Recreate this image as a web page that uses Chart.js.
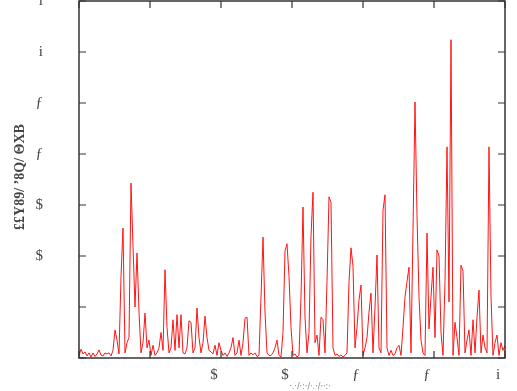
<!DOCTYPE html>
<html>
<head>
<meta charset="utf-8">
<script src="https://cdn.jsdelivr.net/npm/chart.js@4"></script>
<style>
  html, body { margin: 0; padding: 0; background: #fff; }
  #wrap { position: relative; width: 517px; height: 391px; }
</style>
</head>
<body>
<div id="wrap"><canvas id="spectrumChart"></canvas></div>
<script>
// tick labels (as they appear in the picture)
var xTickLabels = ['', '', '$', '$', 'ƒ', 'ƒ', 'i'];
var yTickLabels = ['', '', '$', '$', 'ƒ', 'ƒ', 'i', 'i'];
var yTitle = '££Y89/ ʼ8Q/ ΘXB';
var xTitle = '·.·/·:·/·.·/··:·';

// signal values, one sample per step along the x axis
var signal = [
    0.05, 0.17, 0.08, 0.12, 0.04, 0.10, 0.02, 0.10, 0.03, 0.08,
    0.16, 0.06, 0.04, 0.10, 0.08, 0.10, 0.04, 0.15, 0.55, 0.35,
    0.08, 1.60, 2.55, 0.10, 0.30, 0.40, 3.43, 2.20, 1.00, 2.06,
    0.90, 0.10, 0.30, 0.88, 0.20, 0.35, 0.05, 0.25, 0.05, 0.10,
    0.20, 0.50, 0.15, 1.73, 0.60, 0.10, 0.20, 0.75, 0.15, 0.85,
    0.20, 0.85, 0.10, 0.08, 0.20, 0.73, 0.70, 0.10, 0.20, 0.98,
    0.40, 0.10, 0.30, 0.82, 0.40, 0.15, 0.12, 0.08, 0.25, 0.05,
    0.30, 0.15, 0.05, 0.10, 0.03, 0.10, 0.20, 0.40, 0.05, 0.10,
    0.35, 0.05, 0.30, 0.78, 0.80, 0.05, 0.10, 0.06, 0.10, 0.03,
    0.05, 1.20, 2.37, 0.90, 0.10, 0.05, 0.05, 0.10, 0.20, 0.35,
    0.05, 0.02, 0.50, 2.10, 2.24, 1.60, 0.60, 0.05, 0.08, 0.02,
    0.05, 1.20, 2.96, 0.80, 0.10, 0.50, 2.40, 3.25, 0.30, 0.45,
    0.05, 0.80, 0.75, 0.10, 1.50, 3.16, 3.05, 0.20, 0.05, 0.08,
    0.03, 0.06, 0.02, 0.05, 0.10, 1.50, 2.16, 1.80, 0.20, 0.60,
    1.14, 1.43, 0.05, 0.20, 0.40, 0.90, 1.27, 0.10, 1.00, 2.02,
    0.20, 0.10, 2.90, 3.20, 0.20, 0.05, 0.15, 0.05, 0.08, 0.20,
    0.25, 0.05, 0.60, 1.20, 1.50, 1.78, 0.10, 2.50, 5.02, 2.80,
    1.20, 0.35, 0.10, 0.05, 2.45, 0.57, 1.20, 1.78, 0.40, 2.12,
    2.00, 0.50, 0.05, 1.50, 4.14, 1.10, 6.24, 0.05, 0.70, 0.40,
    0.05, 1.82, 1.70, 0.10, 0.35, 0.55, 0.05, 0.75, 0.10, 0.80,
    1.33, 0.10, 0.45, 0.20, 0.10, 4.14, 1.20, 0.05, 0.30, 0.45,
    0.05, 0.30, 0.15, 0.25
];

var xMax = signal.length - 1;
var xStep = xMax / 6;

// frame with inward ticks on all four sides, plus the axis titles
var framePlugin = {
    id: 'frame',
    afterDraw: function (chart) {
        var ctx = chart.ctx;
        var a = chart.chartArea;
        var xs = chart.scales.x;
        var ys = chart.scales.y;
        var tl = 7;
        ctx.save();
        ctx.strokeStyle = '#333';
        ctx.lineWidth = 1.5;
        ctx.strokeRect(a.left, a.top, a.right - a.left, a.bottom - a.top);
        ctx.lineWidth = 1.2;
        ctx.beginPath();
        xs.ticks.forEach(function (t) {
            var px = xs.getPixelForValue(t.value);
            ctx.moveTo(px, a.top); ctx.lineTo(px, a.top + tl);
            ctx.moveTo(px, a.bottom); ctx.lineTo(px, a.bottom - tl);
        });
        ys.ticks.forEach(function (t) {
            var py = ys.getPixelForValue(t.value);
            ctx.moveTo(a.left, py); ctx.lineTo(a.left + tl, py);
            ctx.moveTo(a.right, py); ctx.lineTo(a.right - tl, py);
        });
        ctx.stroke();

        ctx.fillStyle = '#444';
        ctx.textAlign = 'center';
        ctx.textBaseline = 'middle';
        ctx.translate(20, 177);
        ctx.rotate(-Math.PI / 2);
        ctx.font = 'bold 14px "Liberation Serif", serif';
        ctx.fillText(yTitle, 0, 0);
        ctx.restore();

        ctx.save();
        ctx.fillStyle = '#888';
        ctx.font = '8px "DejaVu Sans", sans-serif';
        ctx.textAlign = 'center';
        ctx.textBaseline = 'middle';
        ctx.fillText(xTitle, 310, 387);
        ctx.restore();
    }
};

var ctx1 = document.getElementById('spectrumChart').getContext('2d');
var spectrumChart = new Chart(ctx1, {
    type: 'line',
    data: {
        datasets: [{
            data: signal.map(function (v, i) { return { x: i, y: v }; }),
            borderColor: 'rgba(255, 20, 20, 1)',
            borderWidth: 1,
            pointRadius: 0,
            tension: 0,
            fill: false
        }]
    },
    options: {
        responsive: true,
        maintainAspectRatio: false,
        animation: false,
        layout: { padding: { top: 1, right: 12, left: 0, bottom: 0 } },
        plugins: {
            legend: { display: false },
            tooltip: { enabled: false }
        },
        scales: {
            x: {
                type: 'linear',
                min: 0,
                max: xMax,
                grid: { display: false, drawTicks: false },
                border: { display: false },
                afterBuildTicks: function (scale) {
                    scale.ticks = [0, 1, 2, 3, 4, 5, 6].map(function (k) { return { value: k * xStep }; });
                },
                afterFit: function (scale) {
                    scale.height = 33;
                    scale.paddingLeft = 0;
                    scale.paddingRight = 0;
                },
                ticks: {
                    autoSkip: false,
                    maxRotation: 0,
                    padding: 8,
                    labelOffset: -7,
                    color: '#444',
                    font: { family: '"Liberation Serif", serif', size: 15 },
                    callback: function (value, index) { return xTickLabels[index]; }
                }
            },
            y: {
                min: 0,
                max: 7,
                grid: { display: false, drawTicks: false },
                border: { display: false },
                afterFit: function (scale) {
                    scale.width = 79;
                    scale.paddingTop = 0;
                    scale.paddingBottom = 0;
                },
                ticks: {
                    stepSize: 1,
                    padding: 36,
                    color: '#444',
                    font: { family: '"Liberation Serif", serif', size: 15 },
                    callback: function (value, index) { return yTickLabels[index]; }
                }
            }
        }
    },
    plugins: [framePlugin]
});
</script>
</body>
</html>
